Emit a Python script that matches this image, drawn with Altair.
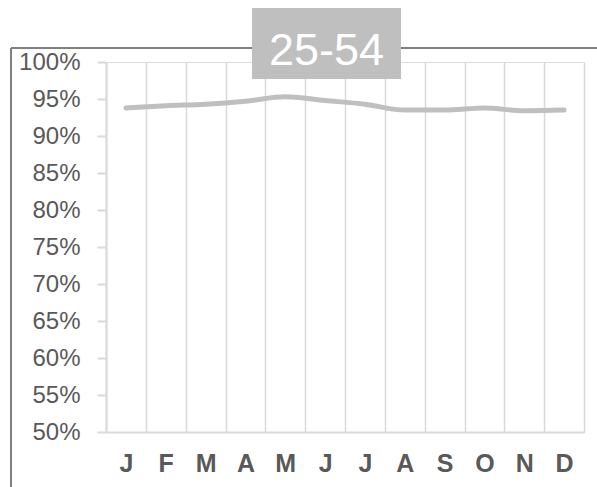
import altair as alt
import pandas as pd

# Monthly share for the 25-54 age group
months = ["Jan", "Feb", "Mar", "Apr", "May", "Jun",
          "Jul", "Aug", "Sep", "Oct", "Nov", "Dec"]
share = [0.938, 0.941, 0.943, 0.947, 0.953, 0.948,
         0.943, 0.935, 0.935, 0.938, 0.934, 0.935]
y_ticks = [0.50, 0.55, 0.60, 0.65, 0.70, 0.75, 0.80, 0.85, 0.90, 0.95, 1.00]
title_text = "25-54"

df = pd.DataFrame({"month": months, "share": share})
one = pd.DataFrame({"k": [0]})

PLOT_W, PLOT_H = 478, 370
LABEL = "#595959"
GRID = "#d9d9d9"
FONT = "Liberation Sans"

line = alt.Chart(df).mark_line(
    color="#bfbfbf", strokeWidth=5, interpolate="monotone", strokeCap="round"
).encode(
    x=alt.X(
        "month:N", sort=months, title=None,
        scale=alt.Scale(paddingInner=0, paddingOuter=0),
        axis=alt.Axis(
            tickBand="extent", grid=True, gridColor=GRID, gridWidth=1.5,
            ticks=False, domainColor=GRID, domainWidth=2,
            labelExpr="substring(datum.label, 0, 1)", labelAngle=0,
            labelFont=FONT, labelFontSize=25, labelFontWeight="bold",
            labelColor=LABEL, labelPadding=19,
        ),
    ),
    y=alt.Y(
        "share:Q", title=None,
        scale=alt.Scale(domain=[0.5, 1.0], nice=False, zero=False),
        axis=alt.Axis(
            values=y_ticks, format=".0%", grid=False,
            domainColor=GRID, domainWidth=2, tickColor=GRID, tickWidth=2,
            tickSize=9, labelPadding=17, labelFont=FONT, labelFontSize=24,
            labelColor=LABEL,
        ),
    ),
)

# Outer frame: top and left border lines
frame_top = alt.Chart(one).mark_rule(color="#808080", strokeWidth=2).encode(
    x=alt.value(-95), x2=alt.value(PLOT_W + 40), y=alt.value(-14)
)
frame_left = alt.Chart(one).mark_rule(color="#808080", strokeWidth=2).encode(
    x=alt.value(-95), y=alt.value(-14), y2=alt.value(PLOT_H + 80)
)

# Title badge
badge = alt.Chart(one).mark_rect(color="#bfbfbf").encode(
    x=alt.value(146), x2=alt.value(295), y=alt.value(-54), y2=alt.value(17)
)
badge_text = alt.Chart(one).mark_text(
    text=title_text, color="white", fontSize=45, font=FONT,
    align="center", baseline="alphabetic",
).encode(x=alt.value(220.5), y=alt.value(3))

chart = alt.layer(frame_top, frame_left, line, badge, badge_text).properties(
    width=PLOT_W, height=PLOT_H,
    autosize=alt.AutoSizeParams(type="none"),
    padding={"left": 106, "top": 62, "right": 13, "bottom": 55},
).configure_view(stroke=None).configure(background="white")

chart.save("out.html", embed_options={"renderer": "svg", "actions": False})
